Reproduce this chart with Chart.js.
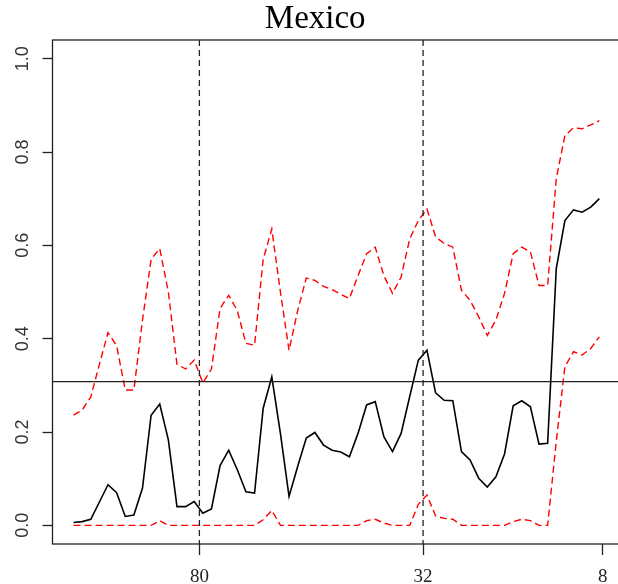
<!DOCTYPE html>
<html>
<head>
<meta charset="utf-8">
<script src="https://cdn.jsdelivr.net/npm/chart.js@4.4.1/dist/chart.umd.min.js"></script>
<style>
  html, body { margin: 0; padding: 0; overflow: hidden; background: #fff; }
</style>
</head>
<body>
<canvas id="graph" width="640" height="584"></canvas>
<script>
// point estimate and its upper / lower band, one value per observation
const estimate = [
  0.006, 0.008, 0.013, 0.05, 0.087, 0.070, 0.019, 0.022, 0.08, 0.236,
  0.26, 0.183, 0.040, 0.040, 0.051, 0.026, 0.035, 0.128, 0.161, 0.119,
  0.072, 0.069, 0.251, 0.318, 0.197, 0.062, 0.126, 0.187, 0.199, 0.172,
  0.161, 0.157, 0.147, 0.197, 0.258, 0.265, 0.190, 0.158, 0.197, 0.276,
  0.354, 0.375, 0.284, 0.268, 0.267, 0.158, 0.140, 0.101, 0.082, 0.104,
  0.153, 0.256, 0.267, 0.254, 0.174, 0.176, 0.55, 0.653, 0.676, 0.671,
  0.682, 0.700,
];
const upper = [
  0.236, 0.247, 0.275, 0.345, 0.413, 0.385, 0.29, 0.29, 0.44, 0.57,
  0.593, 0.50, 0.345, 0.335, 0.354, 0.305, 0.335, 0.465, 0.493, 0.46,
  0.39, 0.386, 0.57, 0.635, 0.50, 0.375, 0.46, 0.53, 0.525, 0.512,
  0.505, 0.495, 0.486, 0.535, 0.582, 0.596, 0.535, 0.497, 0.532, 0.614,
  0.653, 0.678, 0.618, 0.604, 0.596, 0.504, 0.482, 0.447, 0.407, 0.44,
  0.497, 0.582, 0.596, 0.586, 0.514, 0.514, 0.743, 0.835, 0.852, 0.85,
  0.858, 0.867,
];
const lower = [
  0, 0, 0, 0, 0, 0, 0, 0, 0, 0,
  0.01, 0, 0, 0, 0, 0, 0, 0, 0, 0,
  0, 0, 0.012, 0.032, 0, 0, 0, 0, 0, 0,
  0, 0, 0, 0, 0.01, 0.013, 0.005, 0, 0, 0,
  0.045, 0.065, 0.02, 0.015, 0.013, 0, 0, 0, 0, 0,
  0, 0.008, 0.013, 0.01, 0, 0, 0.18, 0.34, 0.372, 0.365,
  0.379, 0.404,
];

// x axis: where the labelled ticks sit (observation index) and what they say
const xTickPos = [14.6, 40.55, 61.4];
const xTickLabels = ["80", "32", "8"];
const cutoffs = [14.6, 40.55]; // dashed verticals
const yTicks = [0, 0.2, 0.4, 0.6, 0.8, 1.0];
const refLevel = 0.308;

const toPoints = (arr) => arr.map((v, i) => ({ x: i, y: v }));

// frame, horizontal reference and dashed cut lines
const guides = {
  id: "guides",
  afterDatasetsDraw(chart) {
    const { ctx, chartArea: a, scales } = chart;
    ctx.save();
    ctx.strokeStyle = "#222";
    ctx.lineWidth = 1.3;

    const hy = scales.y.getPixelForValue(refLevel);
    ctx.beginPath();
    ctx.moveTo(a.left, hy);
    ctx.lineTo(a.right, hy);
    ctx.stroke();

    ctx.setLineDash([6, 4]);
    cutoffs.forEach((v) => {
      const px = scales.x.getPixelForValue(v);
      ctx.beginPath();
      ctx.moveTo(px, a.top);
      ctx.lineTo(px, a.bottom);
      ctx.stroke();
    });
    ctx.setLineDash([]);

    ctx.strokeRect(a.left, a.top, a.right - a.left, a.bottom - a.top);
    ctx.restore();
  },
};

const n = estimate.length - 1;

new Chart(document.getElementById("graph"), {
  type: "line",
  data: {
    datasets: [
      { data: toPoints(upper), borderColor: "#ff0000", borderWidth: 1.4, borderDash: [7, 4] },
      { data: toPoints(lower), borderColor: "#ff0000", borderWidth: 1.4, borderDash: [7, 4] },
      { data: toPoints(estimate), borderColor: "#000", borderWidth: 1.6 },
    ],
  },
  options: {
    responsive: false,
    animation: false,
    devicePixelRatio: 1,
    elements: { point: { radius: 0 }, line: { tension: 0 } },
    layout: { padding: { left: 10, right: 19.6 } },
    plugins: {
      legend: { display: false },
      tooltip: { enabled: false },
      title: {
        display: true,
        text: "Mexico",
        color: "#000",
        font: { family: "Liberation Serif", size: 33, weight: "normal", lineHeight: 1.2 },
        padding: { top: 0, bottom: 0.4 },
      },
    },
    scales: {
      x: {
        type: "linear",
        min: -0.04 * n,
        max: n * 1.04,
        afterBuildTicks: (s) => { s.ticks = xTickPos.map((v) => ({ value: v })); },
        afterFit: (s) => { s.height = 40; },
        border: { display: false },
        grid: { drawOnChartArea: false, tickLength: 11, tickColor: "#222", tickWidth: 1.3 },
        ticks: {
          autoSkip: false,
          maxRotation: 0,
          padding: 11,
          color: "#222",
          font: { family: "Liberation Serif", size: 19 },
          callback: (v, i) => xTickLabels[i],
        },
      },
      y: {
        min: -0.04,
        max: 1.04,
        afterBuildTicks: (s) => { s.ticks = yTicks.map((v) => ({ value: v })); },
        afterFit: (s) => { s.width = 42.5; },
        border: { display: false },
        grid: { drawOnChartArea: false, tickLength: 10, tickColor: "#222", tickWidth: 1.3 },
        ticks: {
          minRotation: 90,
          maxRotation: 90,
          crossAlign: "center",
          padding: 7,
          color: "#333",
          font: { family: "Liberation Sans", size: 18 },
          callback: (v) => v.toFixed(1),
        },
      },
    },
  },
  plugins: [guides],
});
</script>
</body>
</html>
